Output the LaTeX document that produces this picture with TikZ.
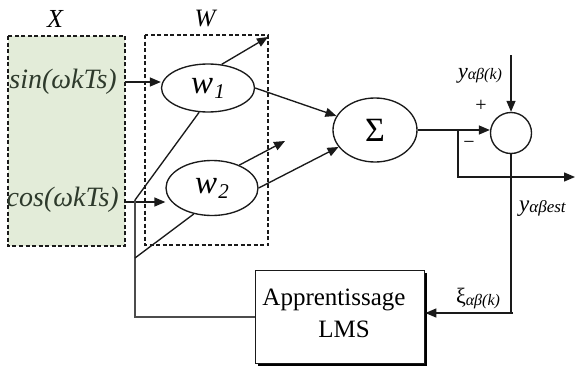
\documentclass[tikz,border=0pt]{standalone}
\usepackage{fontspec}
\setmainfont{Liberation Serif}
\usetikzlibrary{arrows.meta,shapes.geometric}
\definecolor{inpfill}{HTML}{E3ECD9}
\definecolor{inptext}{HTML}{2E3A2C}
\definecolor{wire}{HTML}{1A1A1A}
\tikzset{
  wline/.style={draw=wire, line width=1.35pt},
  arr/.style={wline, -{Triangle[length=11pt,width=9pt]}},
  neuron/.style={ellipse, draw=wire, line width=1.35pt, inner sep=0pt},
  frame/.style={draw=wire, line width=1.1pt, dash pattern=on 4pt off 2.5pt},
  lbl/.style={inner sep=0pt, text=black}
}
\newcommand{\fs}[1]{\fontsize{#1}{#1}\selectfont}
\begin{document}
\begin{tikzpicture}[x=1pt,y=-1pt]
\useasboundingbox (0,0) rectangle (575,372);

% input and weight frames
\path[frame, fill=inpfill] (8,36) rectangle (125,246);
\path[frame] (145,35) rectangle (268,245);
\node[lbl] (lx) at (55,19) {\fs{26}\itshape X};
\node[lbl] (lw) at (205,19) {\fs{25}\itshape W};

% inputs
\node[lbl, text=inptext, anchor=east] (sin) at (117,82) {\fs{28}\itshape sin(ωkTs)};
\node[lbl, text=inptext, anchor=east] (cos) at (119,200) {\fs{28}\itshape cos(ωkTs)};

% weights
\node[neuron, minimum width=93pt, minimum height=48pt] (w1) at (208,88) {\fs{33}\itshape w\kern1pt\raisebox{-5pt}{\fs{21}1}};
\node[neuron, minimum width=92pt, minimum height=55pt] (w2) at (212,188) {\fs{33}\itshape w\kern1pt\raisebox{-5pt}{\fs{21}2}};

% summation and comparator
\node[neuron, minimum width=84pt, minimum height=64pt] (sum) at (375,130) {\fs{34}Σ};
\node[circle, draw=wire, line width=1.35pt, minimum size=41pt, inner sep=0pt] (cmp) at (511,133) {};

% learning block with its shadow
\fill[black] (258,273) rectangle (427,366);
\node[rectangle, draw=wire, fill=white, line width=1.35pt, minimum width=169pt, minimum height=93pt, inner sep=0pt, anchor=north west] (lms) at (255,270) {};
\node[lbl] (t1) at (334,300) {\fs{25}Apprentissage};
\node[lbl] (t2) at (344,329) {\fs{25}LMS};

% helper points
\coordinate (top) at (511,55);
\coordinate (br) at (458,130);
\coordinate (brd) at (458,177);
\coordinate (outr) at (575,177);
\coordinate (cd) at (513,313);
\coordinate (fb) at (135,317);
\coordinate (fv) at (135,200);
\coordinate (fd) at (135,258);
\coordinate (o1) at (268,37);
\coordinate (o2) at (285,141);

% forward path
\draw[arr] (125,82) -- (w1.west |- sin.east);
\draw[arr] (125,202) -- (w2.west |- 0,202);
\draw[arr] (w1.east) -- (sum.160);
\draw[arr] (w2.east) -- (sum.205);
\draw[wline] (sum.east) -- (br);
\draw[arr] (br) -- (cmp.west |- br);
\draw[arr] (br) -- (brd) -- (outr);
\draw[arr] (top) -- (cmp.north);

% error feedback
\draw[wline] (cmp.south) -- (cmp.south |- cd) -- (cd);
\draw[arr] (cd) -- (lms.east |- cd);
\draw[wline, draw=black!70] (lms.west |- fb) -- (fb) -- (fv);
\draw[wline] (fv) -- (w1.250);
\draw[wline] (fd) -- (w2.235);
\draw[arr] (w1.60) -- (o1);
\draw[arr] (w2.40) -- (o2);

% signal labels
\node[lbl] (plus) at (481,106) {\fs{20}+};
\node[lbl] (minus) at (469,145) {\fs{20}−};
\node[lbl] (yref) at (480,76) {\fs{22}\itshape y\raisebox{-1pt}{\fs{16}αβ(k)}};
\node[lbl, anchor=west] (yest) at (519,208) {\fs{23}\itshape y\raisebox{-1pt}{\fs{17}αβest}};
\node[lbl] (xi) at (478,299) {\fs{22}ξ\raisebox{-2pt}{\fs{16}\itshape αβ(k)}};
\end{tikzpicture}
\end{document}
